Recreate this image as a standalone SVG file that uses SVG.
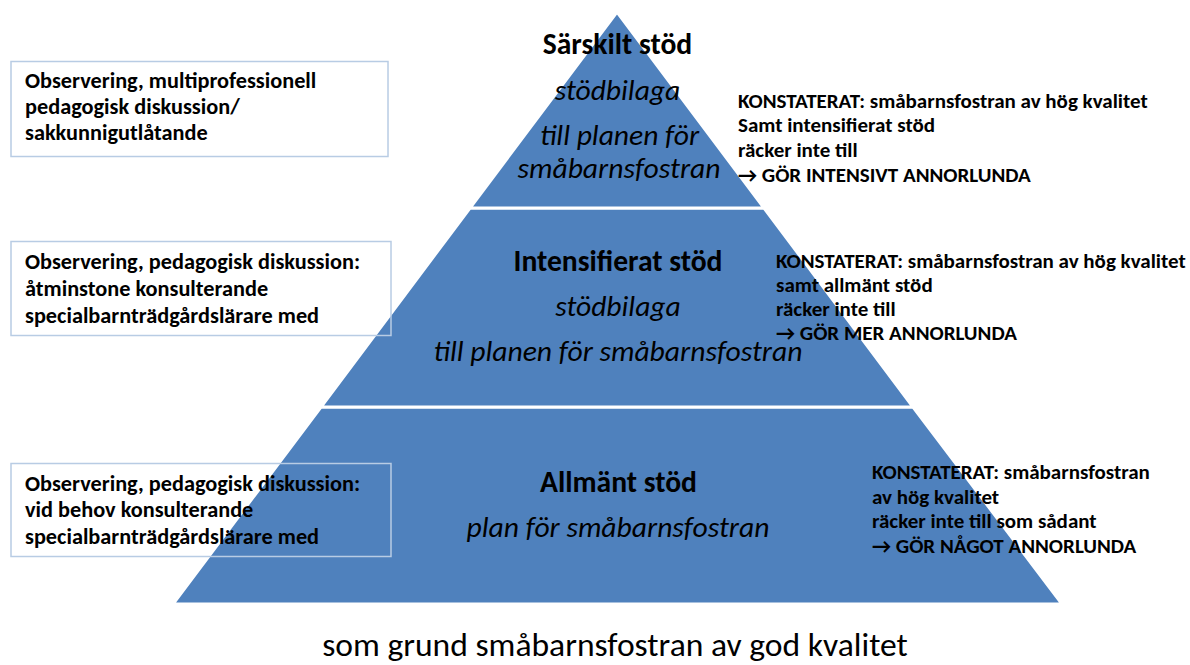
<svg xmlns="http://www.w3.org/2000/svg" width="1190" height="665" viewBox="0 0 1190 665">
<style>
.lvl{fill:#4F81BD;stroke:#fff;stroke-width:3}
.box{fill:none;stroke:#B8CCE4;stroke-width:1.5}
.t{font-family:Carlito,Lato,"Liberation Sans",sans-serif;fill:#000}
.lb{font-weight:bold;font-size:22.3px}
.rb{font-weight:bold;font-size:21px}
.h{font-weight:bold;font-size:29.6px;text-anchor:middle}
.i{font-style:italic;font-size:29.6px;text-anchor:middle}
.cap{font-size:33.6px;text-anchor:middle}
</style>
<rect width="1190" height="665" fill="#fff"/>
<g id="pyramid">
<g id="level-bottom"><polygon class="lvl" points="321,407 913,407 1062,604 173,604"/></g>
<g id="level-middle"><polygon class="lvl" points="470,208 764,208 913,407 321,407"/></g>
<g id="level-top"><polygon class="lvl" points="617,12 764,208 470,208"/></g>
</g>
<g id="connectors"></g>
<g id="top-texts">
<text class="t h" x="617.5" y="54">Särskilt stöd</text>
<text class="t i" x="617.5" y="100">stödbilaga</text>
<text class="t i" x="619.5" y="145">till planen för</text>
<text class="t i" x="619" y="178">småbarnsfostran</text>
</g>
<g id="middle-texts">
<text class="t h" x="618" y="271">Intensifierat stöd</text>
<text class="t i" x="618" y="316">stödbilaga</text>
<text class="t i" x="618" y="361">till planen för småbarnsfostran</text>
</g>
<g id="bottom-texts">
<text class="t h" x="618.5" y="492">Allmänt stöd</text>
<text class="t i" x="618" y="537">plan för småbarnsfostran</text>
</g>
<g id="box1">
<rect class="box" x="11" y="61.5" width="377" height="95"/>
<text class="t lb" x="25" y="88">Observering, multiprofessionell</text>
<text class="t lb" x="25" y="114">pedagogisk diskussion/</text>
<text class="t lb" x="25" y="140">sakkunnigutlåtande</text>
</g>
<g id="box2">
<rect class="box" x="11" y="241.5" width="380" height="94"/>
<text class="t lb" x="25" y="269">Observering, pedagogisk diskussion:</text>
<text class="t lb" x="25" y="296">åtminstone konsulterande</text>
<text class="t lb" x="25" y="323">specialbarnträdgårdslärare med</text>
</g>
<g id="box3">
<rect class="box" x="11" y="463.5" width="380" height="93"/>
<text class="t lb" x="25" y="491">Observering, pedagogisk diskussion:</text>
<text class="t lb" x="25" y="517">vid behov konsulterande</text>
<text class="t lb" x="25" y="544">specialbarnträdgårdslärare med</text>
</g>
<g id="note-top">
<text class="t rb" x="738" y="108">KONSTATERAT: småbarnsfostran av hög kvalitet</text>
<text class="t rb" x="738" y="132">Samt intensifierat stöd</text>
<text class="t rb" x="738" y="157">räcker inte till</text>
<text class="t rb" x="738" y="182">→ GÖR INTENSIVT ANNORLUNDA</text>
</g>
<g id="note-middle">
<text class="t rb" x="776" y="268">KONSTATERAT: småbarnsfostran av hög kvalitet</text>
<text class="t rb" x="776" y="292">samt allmänt stöd</text>
<text class="t rb" x="776" y="316">räcker inte till</text>
<text class="t rb" x="776" y="340">→ GÖR MER ANNORLUNDA</text>
</g>
<g id="note-bottom">
<text class="t rb" x="872" y="479">KONSTATERAT: småbarnsfostran</text>
<text class="t rb" x="872" y="504">av hög kvalitet</text>
<text class="t rb" x="872" y="528">räcker inte till som sådant</text>
<text class="t rb" x="872" y="553">→ GÖR NÅGOT ANNORLUNDA</text>
</g>
<g id="caption">
<text class="t cap" x="615" y="656">som grund småbarnsfostran av god kvalitet</text>
</g>
</svg>
